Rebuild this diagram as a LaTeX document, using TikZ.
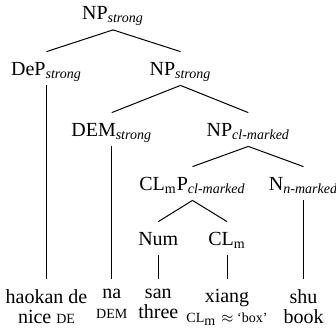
\documentclass[tikz,border=0pt]{standalone}
\usepackage{amsmath}
\usepackage{amssymb}
\usepackage{fontspec}
\setmainfont{Liberation Serif}
\usepackage{tikz}
\usetikzlibrary{positioning, calc}
\newcommand{\catsub}[1]{$_{\text{\itshape #1}}$}
\newcommand{\glosssc}[1]{{\scriptsize #1}}
\tikzstyle{cat} = [anchor=base, inner sep=0pt, text height=11.5pt, text depth=5pt]
\tikzstyle{leaf} = [anchor=north, inner xsep=0pt, inner ysep=5pt, align=center, font=\fontsize{10}{10}\selectfont]
\tikzstyle{branch} = [line width=0.5pt]

\begin{document}
\begin{tikzpicture}[x=0.5pt, y=-0.5pt]
\useasboundingbox (0,0) rectangle (336,329);
% categories
\node (np) [cat] at (113,19.5) {NP\catsub{strong}};
\node (dep) [cat] at (46.5,75) {DeP\catsub{strong}};
\node (npb) [cat] at (180.5,75) {NP\catsub{strong}};
\node (dem) [cat] at (111.7,136) {DEM\catsub{strong}};
\node (npc) [cat] at (248.3,136) {NP\catsub{cl-marked}};
\node (clmp) [cat] at (192.5,190) {CL$_{\text{m}}$P\catsub{cl-marked}};
\node (n) [cat] at (303.5,190) {N\catsub{n-marked}};
\node (num) [cat] at (158.3,245) {Num};
\node (clm) [cat] at (227,245) {CL$_{\text{m}}$};
% words and glosses
\node (haokan) [leaf] at (46.5,279) {haokan de\\nice \glosssc{DE}};
\node (na) [leaf] at (111.7,279) {na\\\glosssc{DEM}};
\node (san) [leaf] at (158.3,279) {san\\three};
\node (xiang) [leaf] at (227,279) {xiang\\\glosssc{CL}$_{\text{m}}$ {\scriptsize$\approx$ `box'}};
\node (shu) [leaf] at (303.5,279) {shu\\book};

\draw [branch] (np.south) -- (dep.north);
\draw [branch] (np.south) -- (npb.north);
\draw [branch] (npb.south) -- (dem.north);
\draw [branch] (npb.south) -- (npc.north);
\draw [branch] (npc.south) -- (clmp.north);
\draw [branch] (npc.south) -- (n.north);
\draw [branch] (clmp.south) -- (num.north);
\draw [branch] (clmp.south) -- (clm.north);
\draw [branch] (dep.south) -- (haokan.north);
\draw [branch] (dem.south) -- (na.north);
\draw [branch] (num.south) -- (san.north);
\draw [branch] (clm.south) -- (xiang.north);
\draw [branch] (n.south) -- (shu.north);
\end{tikzpicture}
\end{document}
